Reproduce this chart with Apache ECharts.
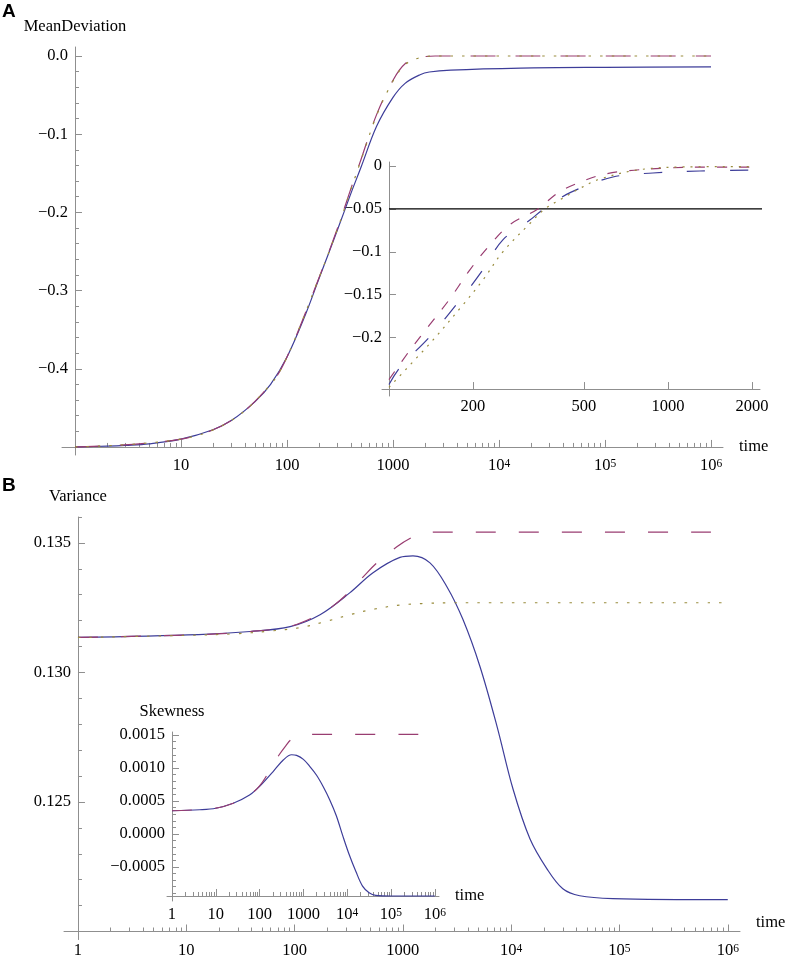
<!DOCTYPE html>
<html>
<head>
<meta charset="utf-8">
<script src="https://cdn.jsdelivr.net/npm/echarts@6/dist/echarts.min.js"></script>
<style>
html,body{margin:0;padding:0;background:#fff;}
#chart{width:787px;height:959px;}
</style>
</head>
<body>
<div id="chart"></div>
<script>
// ---------------- DATA ----------------
// Panel A, main plot: MeanDeviation vs time
const timeA_blue = [1, 2, 3, 5, 10, 20, 30, 50, 70, 100, 150, 200, 300, 400, 500, 700, 1000, 1300, 1800, 2200, 3500, 16000, 100000, 1000000];
const meanA_blue = [-0.500, -0.499, -0.498, -0.496, -0.490, -0.478, -0.466, -0.442, -0.420, -0.385, -0.330, -0.285, -0.222, -0.176, -0.142, -0.090, -0.053, -0.035, -0.024, -0.0205, -0.018, -0.0154, -0.0145, -0.014];
const timeA_mag = [1, 10, 30, 70, 100, 200, 300, 400, 500, 700, 1000, 1300, 1800, 2500, 10000, 1000000];
const meanA_mag = [-0.500, -0.490, -0.466, -0.420, -0.385, -0.284, -0.220, -0.170, -0.132, -0.075, -0.031, -0.010, -0.002, 0.0, 0.0, 0.0];
const timeA_dot = [1, 10, 30, 70, 100, 200, 300, 400, 500, 700, 1000, 1300, 1800, 2500, 10000, 1000000];
const meanA_dot = [-0.500, -0.490, -0.466, -0.420, -0.385, -0.284, -0.221, -0.171, -0.133, -0.076, -0.032, -0.011, -0.002, 0.0, 0.0, 0.0];

// Panel A, inset
const timeAi_blue = [100, 110, 140, 184, 217, 256, 320, 356, 446, 635, 883, 1300, 2000];
const meanAi_blue = [-0.2547, -0.234, -0.199, -0.152, -0.121, -0.086, -0.063, -0.051, -0.031, -0.0128, -0.0081, -0.0058, -0.0047];
const timeAi_mag = [100, 119, 140, 166, 195, 230, 272, 342, 404, 476, 575, 702, 1000, 1310, 2000];
const meanAi_mag = [-0.249, -0.2145, -0.185, -0.154, -0.121, -0.092, -0.068, -0.050, -0.031, -0.0198, -0.0105, -0.0058, -0.0023, -0.0012, -0.0012];
const timeAi_dot = [100, 140, 184, 217, 256, 320, 362, 417, 484, 561, 775, 1150, 2000];
const meanAi_dot = [-0.258, -0.207, -0.162, -0.133, -0.100, -0.067, -0.050, -0.038, -0.026, -0.016, -0.0047, -0.001, -0.0006];
const thresholdTime = [100, 2190];
const thresholdValue = -0.05;

// Panel B, main plot: Variance vs time
const timeB_blue = [1, 13, 39, 91, 172, 325, 530, 940, 1240, 1780, 2550, 3590, 5150, 7400, 10400, 14900, 21400, 30000, 43000, 87000, 1000000];
const varB_blue = [0.13135, 0.13146, 0.13158, 0.13177, 0.13223, 0.13308, 0.13385, 0.13444, 0.13450, 0.13423, 0.13331, 0.13204, 0.13023, 0.12792, 0.12550, 0.12358, 0.12242, 0.12165, 0.12138, 0.12127, 0.12123];
const timeB_mag = [1, 13, 39, 91, 172, 224, 300, 430, 575, 880, 1200, 1500, 2000, 1000000];
const varB_mag = [0.13135, 0.13146, 0.13158, 0.13178, 0.13225, 0.13255, 0.13300, 0.13369, 0.13423, 0.13485, 0.13520, 0.13535, 0.13542, 0.13542];
const timeB_dot = [1, 10, 30, 60, 112, 200, 325, 550, 940, 1500, 3000, 1000000];
const varB_dot = [0.13135, 0.13143, 0.13150, 0.13160, 0.13173, 0.13198, 0.13223, 0.13245, 0.13260, 0.13266, 0.13269, 0.13269];

// Panel B, inset: Skewness vs time
const timeBi_blue = [1, 4.3, 10, 25, 59, 100, 204, 347, 537, 700, 1000, 1410, 2000, 2820, 3980, 5620, 7940, 11200, 15800, 22400, 31600, 44700, 100000, 1000000];
const skewBi_blue = [0.000352, 0.000367, 0.00039, 0.000465, 0.00059, 0.00072, 0.000946, 0.00112, 0.00120, 0.00119, 0.00113, 0.00102, 0.00089, 0.00072, 0.00052, 0.00028, -0.00003, -0.00032, -0.00057, -0.00079, -0.00089, -0.00093, -0.00094, -0.00094];
const timeBi_mag = [1, 10, 25, 59, 100, 150, 200, 280, 400, 505, 700, 1000, 2000, 1000000];
const skewBi_mag = [0.000352, 0.00039, 0.000465, 0.00059, 0.00073, 0.0009, 0.00104, 0.0012, 0.00134, 0.00142, 0.00147, 0.0015, 0.00151, 0.00151];

// Tick values
const decadeTicks = [0, 1, 2, 3, 4, 5, 6];            // log10(time)
const insetATimeTicks = [200, 500, 1000, 2000];
const meanTicks = [0, -0.1, -0.2, -0.3, -0.4];
const insetMeanTicks = [0, -0.05, -0.1, -0.15, -0.2];
const varianceTicks = [0.125, 0.130, 0.135];
const skewTicks = [-0.0005, 0, 0.0005, 0.0010, 0.0015];

// ---------------- STYLE ----------------
const FONT = '"Liberation Serif", "Times New Roman", serif';
const FS = 16.5;
const GRAY = '#8f8f8f';
const C_BLUE = '#3d3d99', C_MAG = '#993d71', C_OLIVE = '#998c3d';

function pts(ts, vs) { return ts.map((t, i) => [Math.log10(t), vs[i]]); }
function logMinor(d0, d1) { const o = []; for (let d = d0; d < d1; d++) for (let k = 2; k <= 9; k++) o.push(d + Math.log10(k)); return o; }
function linMinor(k0, k1, div, skipEvery) { const o = []; for (let k = k0; k <= k1; k++) if (k % skipEvery !== 0) o.push(k / div); return o; }
const minus = s => s.replace('-', '\u2212');
function decadeLabel(v) { const e = Math.round(v); return e <= 3 ? String(Math.pow(10, e)) : '10{sup|' + e + '}'; }

const panels = [
  { // A main
    rect: [62, 47, 661, 408], x: [-0.1226, 6.113], y: [-0.5103, 0.0115], yCross: -0.5, xCross: 0,
    xMajor: decadeTicks.slice(1), xMinor: logMinor(0, 6), xFmt: decadeLabel, xMargin: 11,
    yMajor: meanTicks, yMinor: linMinor(-24, -1, 50, 5), yFmt: v => v === 0 ? '0.0' : minus(v.toFixed(1)),
    yName: 'MeanDeviation', xName: 'time', xNameVA: 'middle'
  },
  { // A inset
    rect: [382, 162, 378, 234], x: [1.975, 3.33], y: [-0.2681, 0.0047], yCross: -0.26, xCross: 2,
    xMajor: insetATimeTicks.map(Math.log10), xMinor: [], xFmt: v => String(Math.round(Math.pow(10, v))), xMargin: 10,
    yMajor: insetMeanTicks, yMinor: [], yFmt: v => v === 0 ? '0' : minus(String(v)),
    yName: '', xName: '', xNameVA: 'middle'
  },
  { // B main
    rect: [64, 517, 676, 424], x: [-0.129, 6.113], y: [0.11969, 0.13600], yCross: 0.12, xCross: 0,
    xMajor: decadeTicks, xMinor: logMinor(0, 6), xFmt: decadeLabel, xMargin: 11,
    yMajor: varianceTicks, yMinor: linMinor(121, 136, 1000, 5), yFmt: v => v.toFixed(3),
    yName: 'Variance', xName: 'time', xNameVA: 'bottom'
  },
  { // B inset
    rect: [167, 732, 272, 169], x: [-0.114, 6.096], y: [-0.001016, 0.001545], yCross: -0.00094, xCross: 0,
    xMajor: decadeTicks, xMinor: logMinor(0, 6), xFmt: decadeLabel, xMargin: 11,
    yMajor: skewTicks, yMinor: linMinor(-9, 15, 10000, 5), yFmt: v => minus(v.toFixed(4)),
    yName: 'Skewness', xName: 'time', xNameVA: 'middle'
  }
];

const grids = [], xAxes = [], yAxes = [];
panels.forEach((p, i) => {
  const [l, t, w, h] = p.rect;
  grids.push({ left: l, top: t, width: w, height: h, containLabel: false });
  const xOff = -(p.yCross - p.y[0]) / (p.y[1] - p.y[0]) * h;
  const yOff = -(p.xCross - p.x[0]) / (p.x[1] - p.x[0]) * w;
  const lbl = { color: '#000', fontFamily: FONT, fontSize: FS };
  xAxes.push({
    type: 'value', gridIndex: i, position: 'bottom', offset: xOff, min: p.x[0], max: p.x[1],
    axisLine: { onZero: false, lineStyle: { color: GRAY, width: 1 } },
    axisTick: { inside: true, length: 7, lineStyle: { color: GRAY }, customValues: p.xMajor },
    axisLabel: Object.assign({}, lbl, { margin: p.xMargin, lineHeight: 16, customValues: p.xMajor, formatter: p.xFmt,
      rich: { sup: { fontFamily: FONT, fontSize: 11.5, lineHeight: 1, verticalAlign: 'top', color: '#000' } } }),
    splitLine: { show: false },
    name: p.xName, nameLocation: 'end', nameGap: 16,
    nameTextStyle: { color: '#000', fontFamily: FONT, fontSize: FS, verticalAlign: p.xNameVA }
  });
  xAxes.push({
    type: 'value', gridIndex: i, position: 'bottom', offset: xOff, min: p.x[0], max: p.x[1],
    axisLine: { show: false, onZero: false },
    axisTick: { show: p.xMinor.length > 0, inside: true, length: 4, lineStyle: { color: GRAY }, customValues: p.xMinor.length ? p.xMinor : [p.x[0]] },
    axisLabel: { show: false }, splitLine: { show: false }
  });
  yAxes.push({
    type: 'value', gridIndex: i, position: 'left', offset: yOff, min: p.y[0], max: p.y[1],
    axisLine: { show: true, onZero: false, lineStyle: { color: GRAY, width: 1 } },
    axisTick: { inside: true, length: 7, lineStyle: { color: GRAY }, customValues: p.yMajor },
    axisLabel: Object.assign({}, lbl, { margin: 7, customValues: p.yMajor, formatter: p.yFmt }),
    splitLine: { show: false },
    name: p.yName, nameLocation: 'end', nameGap: 12,
    nameTextStyle: { color: '#000', fontFamily: FONT, fontSize: FS }
  });
  yAxes.push({
    type: 'value', gridIndex: i, position: 'left', offset: yOff, min: p.y[0], max: p.y[1],
    axisLine: { show: false, onZero: false },
    axisTick: { show: p.yMinor.length > 0, inside: true, length: 4, lineStyle: { color: GRAY }, customValues: p.yMinor.length ? p.yMinor : [p.y[0]] },
    axisLabel: { show: false }, splitLine: { show: false }
  });
});

function line(panel, data, color, type, extra) {
  return Object.assign({
    type: 'line', xAxisIndex: panel * 2, yAxisIndex: panel * 2, data: data,
    showSymbol: false, symbol: 'none', smooth: 0.35, animation: false, silent: true,
    lineStyle: { color: color, width: 1.2, type: type || 'solid' }
  }, extra || {});
}

const series = [
  line(0, pts(timeA_blue, meanA_blue), C_BLUE, 'solid'),
  line(0, pts(timeA_mag, meanA_mag), C_MAG, [25, 20]),
  line(0, pts(timeA_dot, meanA_dot), C_OLIVE, [2.5, 9]),
  line(1, pts(thresholdTime, [thresholdValue, thresholdValue]), '#000', 'solid', { smooth: false, clip: false }),
  line(1, pts(timeAi_blue, meanAi_blue), C_BLUE, [18, 25]),
  line(1, pts(timeAi_mag, meanAi_mag), C_MAG, [10, 12]),
  line(1, pts(timeAi_dot, meanAi_dot), C_OLIVE, [2, 6]),
  line(2, pts(timeB_blue, varB_blue), C_BLUE, 'solid'),
  line(2, pts(timeB_mag, varB_mag), C_MAG, [20, 23]),
  line(2, pts(timeB_dot, varB_dot), C_OLIVE, [2.5, 9]),
  line(3, pts(timeBi_blue, skewBi_blue), C_BLUE, 'solid'),
  line(3, pts(timeBi_mag, skewBi_mag), C_MAG, [20, 23])
];

const chart = echarts.init(document.getElementById('chart'), null, { renderer: 'canvas' });
chart.setOption({
  backgroundColor: '#fff',
  animation: false,
  grid: grids,
  xAxis: xAxes,
  yAxis: yAxes,
  series: series,
  graphic: [
    { type: 'text', left: 2, top: 2, style: { text: 'A', font: 'bold 19px "Liberation Sans", Arial, sans-serif', fill: '#000' } },
    { type: 'text', left: 2, top: 476, style: { text: 'B', font: 'bold 19px "Liberation Sans", Arial, sans-serif', fill: '#000' } }
  ]
});
</script>
</body>
</html>
